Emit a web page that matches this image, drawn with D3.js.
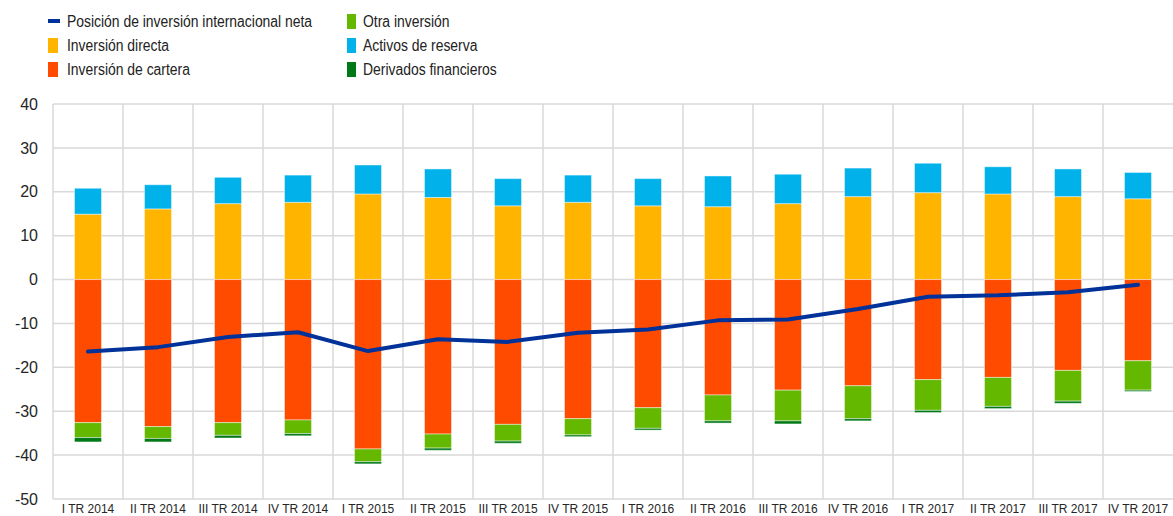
<!DOCTYPE html>
<html>
<head>
<meta charset="utf-8">
<script src="https://cdn.jsdelivr.net/npm/d3@7"></script>
<style>
	body { margin: 0; background: #fff; }
	svg { font-family: Arial, 'Liberation Sans', sans-serif; }
</style>
</head>
<body>
<div id="chart"></div>
<script>
var quarters = ['I TR 2014', 'II TR 2014', 'III TR 2014', 'IV TR 2014',
	'I TR 2015', 'II TR 2015', 'III TR 2015', 'IV TR 2015',
	'I TR 2016', 'II TR 2016', 'III TR 2016', 'IV TR 2016',
	'I TR 2017', 'II TR 2017', 'III TR 2017', 'IV TR 2017'];

// % del PIB
var directa   = [14.9, 16.1, 17.3, 17.6, 19.5, 18.7, 16.8, 17.6, 16.8, 16.6, 17.3, 18.9, 19.8, 19.5, 18.9, 18.4];
var reserva   = [5.9, 5.5, 6.0, 6.2, 6.6, 6.5, 6.2, 6.2, 6.2, 7.0, 6.7, 6.5, 6.7, 6.2, 6.3, 6.0];
var cartera   = [-32.6, -33.5, -32.6, -32.0, -38.6, -35.2, -33.0, -31.7, -29.2, -26.3, -25.2, -24.2, -22.8, -22.3, -20.7, -18.5];
var otra      = [-3.4, -2.7, -2.9, -3.1, -2.9, -3.2, -3.8, -3.7, -4.7, -5.9, -7.0, -7.5, -7.0, -6.6, -7.0, -6.7];
var derivados = [-1.0, -0.8, -0.6, -0.5, -0.5, -0.5, -0.5, -0.4, -0.4, -0.5, -0.7, -0.5, -0.5, -0.5, -0.5, -0.3];
var neta      = [-16.4, -15.4, -13.1, -12.0, -16.3, -13.6, -14.2, -12.1, -11.4, -9.3, -9.1, -6.7, -3.9, -3.6, -2.9, -1.2];
var yTicks = [40, 30, 20, 10, 0, -10, -20, -30, -40, -50];

var colors = {
	neta: '#003299',
	directa: '#ffb400',
	cartera: '#ff4b00',
	otra: '#65b800',
	reserva: '#00b1ea',
	derivados: '#007816'
};

var width = 1173, height = 516;
var margin = {top: 104, right: 0, bottom: 17, left: 53};

var svg = d3.select('#chart').append('svg')
	.attr('width', width)
	.attr('height', height);

var x = d3.scaleBand()
	.domain(quarters)
	.range([margin.left, width - margin.right]);

var y = d3.scaleLinear()
	.domain([-50, 40])
	.range([height - margin.bottom, margin.top]);

// rejilla
var grid = svg.append('g').attr('class', 'grid');
grid.selectAll('line.h')
	.data(yTicks)
	.enter().append('line')
	.attr('x1', margin.left).attr('x2', width)
	.attr('y1', function(d) { return y(d); })
	.attr('y2', function(d) { return y(d); })
	.attr('stroke', '#d9d9d9').attr('stroke-width', 1.5);
grid.selectAll('line.v')
	.data(quarters.slice(1))
	.enter().append('line')
	.attr('x1', function(d) { return x(d); })
	.attr('x2', function(d) { return x(d); })
	.attr('y1', y(40)).attr('y2', y(-50))
	.attr('stroke', '#d9d9d9').attr('stroke-width', 1.5);
grid.append('line')
	.attr('x1', margin.left).attr('x2', margin.left)
	.attr('y1', y(40)).attr('y2', y(-50))
	.attr('stroke', '#d9d9d9').attr('stroke-width', 1.5);

// barras apiladas
var barW = 27;
function stackSegments(i) {
	var segs = [];
	var pos = 0, neg = 0;
	[['directa', directa], ['reserva', reserva], ['cartera', cartera], ['otra', otra], ['derivados', derivados]]
		.forEach(function(s) {
			var v = s[1][i];
			if (v >= 0) { segs.push({key: s[0], y0: pos, y1: pos + v}); pos += v; }
			else { segs.push({key: s[0], y0: neg, y1: neg + v}); neg += v; }
		});
	return segs;
}

var bars = svg.append('g').attr('class', 'bars');
quarters.forEach(function(q, i) {
	bars.selectAll('rect.q' + i)
		.data(stackSegments(i))
		.enter().append('rect')
		.attr('x', x(q) + x.bandwidth() / 2 - barW / 2)
		.attr('width', barW)
		.attr('y', function(d) { return y(Math.max(d.y0, d.y1)); })
		.attr('height', function(d) { return Math.abs(y(d.y0) - y(d.y1)); })
		.attr('fill', function(d) { return colors[d.key]; })
		.attr('stroke', 'rgba(255,255,255,0.45)')
		.attr('stroke-width', 1);
});

// línea
var line = d3.line()
	.x(function(d, i) { return x(quarters[i]) + x.bandwidth() / 2; })
	.y(function(d) { return y(d); });
svg.append('path')
	.datum(neta)
	.attr('d', line)
	.attr('fill', 'none')
	.attr('stroke', colors.neta)
	.attr('stroke-width', 4)
	.attr('stroke-linejoin', 'round')
	.attr('stroke-linecap', 'round');

// ejes
var yAxis = svg.append('g')
	.attr('transform', 'translate(' + (margin.left - 15) + ',0)')
	.call(d3.axisLeft(y).tickValues(yTicks).tickSize(0).tickPadding(0)
		.tickFormat(function(d) { return String(d); }));
yAxis.select('.domain').remove();
yAxis.selectAll('text')
	.attr('font-size', 16)
	.attr('font-family', 'Arial, Liberation Sans, sans-serif')
	.attr('fill', '#262626');

var xAxis = svg.append('g')
	.attr('transform', 'translate(0,' + (height - margin.bottom) + ')')
	.call(d3.axisBottom(x).tickSize(0).tickPadding(5));
xAxis.select('.domain').remove();
xAxis.selectAll('text')
	.attr('font-size', 12)
	.attr('font-family', 'Arial, Liberation Sans, sans-serif')
	.attr('fill', '#262626');

// leyenda
var legendItems = [
	{label: 'Posición de inversión internacional neta', key: 'neta', col: 0, row: 0},
	{label: 'Inversión directa', key: 'directa', col: 0, row: 1},
	{label: 'Inversión de cartera', key: 'cartera', col: 0, row: 2},
	{label: 'Otra inversión', key: 'otra', col: 1, row: 0},
	{label: 'Activos de reserva', key: 'reserva', col: 1, row: 1},
	{label: 'Derivados financieros', key: 'derivados', col: 1, row: 2}
];
var colX = [48, 347];
var textOff = [19, 16];
var legend = svg.append('g').attr('class', 'legend');
var li = legend.selectAll('g')
	.data(legendItems)
	.enter().append('g')
	.attr('transform', function(d) { return 'translate(' + colX[d.col] + ',' + (21 + d.row * 24) + ')'; });
li.append('rect')
	.attr('x', 0)
	.attr('y', function(d) { return d.key === 'neta' ? -2 : -7; })
	.attr('width', function(d) { return d.key === 'neta' ? 12 : (d.col === 0 ? 10 : 9); })
	.attr('height', function(d) { return d.key === 'neta' ? 4 : 15; })
	.attr('fill', function(d) { return colors[d.key]; });
li.append('g')
	.attr('transform', function(d) { return 'translate(' + textOff[d.col] + ',0) scale(0.87,1)'; })
	.append('text')
	.attr('dy', '0.35em')
	.attr('font-size', 16)
	.attr('fill', '#222')
	.text(function(d) { return d.label; });
</script>
</body>
</html>
